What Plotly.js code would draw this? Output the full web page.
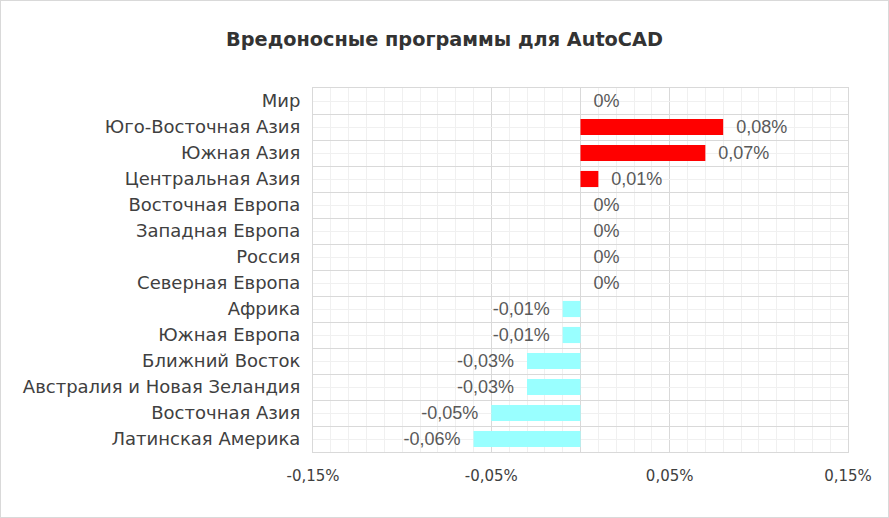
<!DOCTYPE html>
<html>
<head>
<meta charset="utf-8">
<script src="https://cdn.plot.ly/plotly-3.0.1.min.js"></script>
<style>
html,body{margin:0;padding:0;background:#fff;}
#chart{width:889px;height:518px;box-sizing:border-box;border:1px solid #d9d9d9;}
</style>
</head>
<body>
<div id="chart"></div>
<script>
const regions = ["Мир","Юго-Восточная Азия","Южная Азия","Центральная Азия","Восточная Европа","Западная Европа","Россия","Северная Европа","Африка","Южная Европа","Ближний Восток","Австралия и Новая Зеландия","Восточная Азия","Латинская Америка"];
const values = [0, 0.08, 0.07, 0.01, 0, 0, 0, 0, -0.01, -0.01, -0.03, -0.03, -0.05, -0.06];
const xTickVals = [-0.15, -0.05, 0.05, 0.15];
const xTickText = ["-0,15%", "-0,05%", "0,05%", "0,15%"];

const posColor = "#ff0000", negColor = "#99ffff";
function fmt(v){ return v === 0 ? "0%" : v.toFixed(2).replace(".", ",") + "%"; }
const labels = values.map(v => v < 0 ? fmt(v) + "  " : "  " + fmt(v));
const yRange = [regions.length - 0.5, -0.5];

const trace = {
  type: "bar", orientation: "h",
  x: values, y: regions,
  marker: {color: values.map(v => v < 0 ? negColor : posColor)},
  text: labels, textposition: "outside", cliponaxis: false, constraintext: "none",
  textfont: {family: "Liberation Sans, Arial, sans-serif", size: 18, color: "#595959"},
  hoverinfo: "none"
};
const centerTrace = {
  type: "scatter", mode: "markers", x: regions.map(() => null), y: regions, yaxis: "y2",
  showlegend: false, hoverinfo: "none"
};

const layout = {
  width: 887, height: 516,
  margin: {l: 312, r: 40, t: 87, b: 65},
  paper_bgcolor: "#fff", plot_bgcolor: "#fff",
  showlegend: false,
  bargap: 0.38,
  title: {text: "<b>Вредоносные программы для AutoCAD</b>", x: 0.5, xanchor: "center", y: 0.925, yanchor: "middle",
          font: {family: "DejaVu Sans, sans-serif", size: 19.3, color: "#333333"}},
  xaxis: {
    range: [-0.15, 0.15], tickmode: "array", tickvals: xTickVals, ticktext: xTickText,
    showgrid: true, gridcolor: "#d9d9d9", gridwidth: 1,
    zeroline: true, zerolinecolor: "#d9d9d9", zerolinewidth: 1,
    minor: {dtick: 0.01, tick0: 0, showgrid: true, gridcolor: "#f0f0f0", gridwidth: 1},
    ticks: "", ticklabelstandoff: 10,
    tickfont: {family: "DejaVu Sans, sans-serif", size: 15, color: "#404040"},
    showline: true, mirror: true, linecolor: "#d9d9d9", linewidth: 1, fixedrange: true
  },
  yaxis: {
    type: "category", categoryorder: "array", categoryarray: regions, range: yRange,
    tickson: "boundaries", showgrid: true, gridcolor: "#d9d9d9", gridwidth: 1,
    ticks: "", ticklabelstandoff: 8,
    tickfont: {family: "DejaVu Sans, sans-serif", size: 18, color: "#404040"},
    showline: true, mirror: true, linecolor: "#d9d9d9", linewidth: 1, zeroline: false, fixedrange: true
  },
  yaxis2: {
    type: "category", categoryorder: "array", categoryarray: regions, range: yRange,
    overlaying: "y", side: "right", showgrid: true, gridcolor: "#f0f0f0",
    showticklabels: false, ticks: "", zeroline: false, fixedrange: true
  }
};

Plotly.newPlot("chart", [centerTrace, trace], layout, {displayModeBar: false, staticPlot: true});
</script>
</body>
</html>
